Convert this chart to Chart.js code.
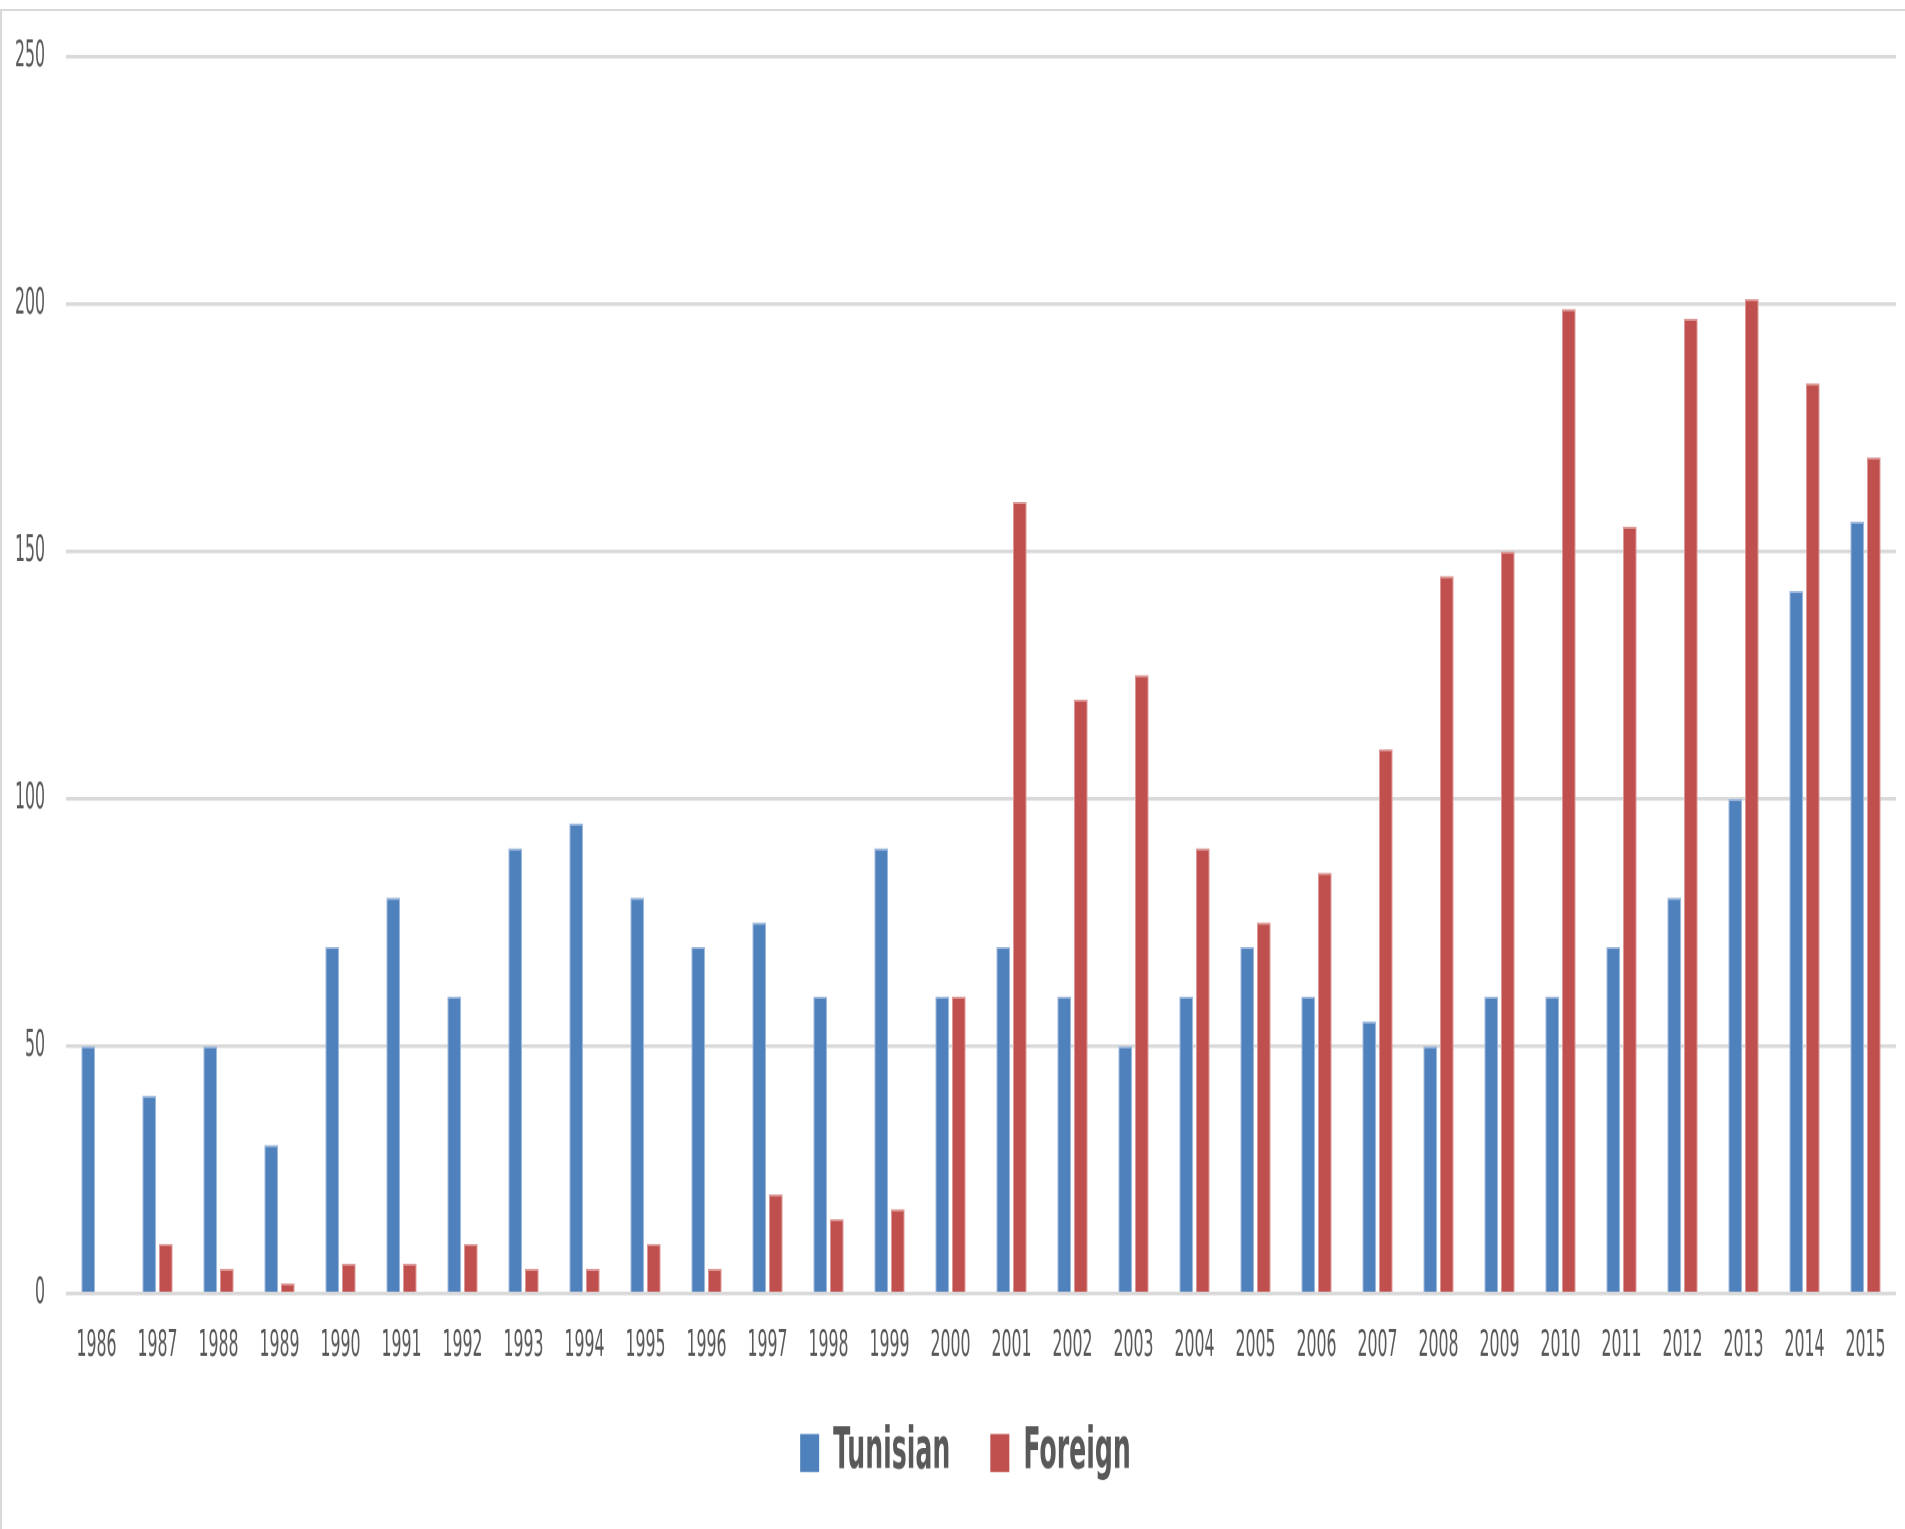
<!DOCTYPE html>
<html>
<head>
<meta charset="utf-8">
<script src="https://cdn.jsdelivr.net/npm/chart.js@4"></script>
<style>
  html, body { margin: 0; padding: 0; background: #fff; overflow: hidden; }
  #frame {
    position: absolute; left: 0; top: 9px; width: 1930px; height: 1540px;
    border-left: 2px solid #d9d9d9; border-top: 2px solid #d9d9d9; box-sizing: border-box;
  }
  /* the chart is drawn on a shorter canvas and stretched vertically (tall, narrow lettering) */
  #stretch {
    position: absolute; left: 0; top: 0; width: 1905px; height: 739px;
    transform: scaleY(2.07); transform-origin: 0 0;
  }
</style>
</head>
<body>
<div id="frame"></div>
<div id="stretch"><canvas id="c" width="1905" height="739"></canvas></div>
<script>
const years = ['1986','1987','1988','1989','1990','1991','1992','1993','1994','1995',
               '1996','1997','1998','1999','2000','2001','2002','2003','2004','2005',
               '2006','2007','2008','2009','2010','2011','2012','2013','2014','2015'];
const tunisian = [50,40,50,30,70,80,60,90,95,80,70,75,60,90,60,70,60,50,60,70,60,55,50,60,60,70,80,100,142,156];
const foreign  = [0,10,5,2,6,6,10,5,5,10,5,20,15,17,60,160,120,125,90,75,85,110,145,150,199,155,197,201,184,169];
const yTicks = [0, 50, 100, 150, 200, 250];

const FONT = "'DejaVu Sans Condensed', 'DejaVu Sans', sans-serif";
const TEXT = '#595959';

// place the legend centred under the plot area and a little below the year labels
const legendPlace = {
  id: 'legendPlace',
  afterLayout(chart) {
    if (!chart.legend) return;
    chart.legend.left = 35;
    chart.legend.top = 647.9;
  }
};

new Chart(document.getElementById('c'), {
  type: 'bar',
  data: {
    labels: years,
    datasets: [
      { label: 'Tunisian', data: tunisian, backgroundColor: '#4F81BD', borderColor: '#9db8dc', borderWidth: 1,
        barPercentage: 0.82, categoryPercentage: 0.54 },
      { label: 'Foreign', data: foreign, backgroundColor: '#C0504D', borderColor: '#dc9896', borderWidth: 1,
        barPercentage: 0.82, categoryPercentage: 0.54 }
    ]
  },
  plugins: [legendPlace],
  options: {
    responsive: false,
    animation: false,
    devicePixelRatio: 2,
    layout: { padding: { left: 0, right: 9, top: 27.4, bottom: 0 } },
    plugins: {
      tooltip: { enabled: false },
      legend: {
        position: 'bottom',
        labels: {
          boxWidth: 19, boxHeight: 18.4, padding: 40, color: TEXT,
          font: { family: FONT, size: 28, weight: 'bold' },
          generateLabels(chart) {
            return chart.data.datasets.map((ds, i) => ({
              text: ds.label, fillStyle: ds.backgroundColor, strokeStyle: ds.backgroundColor,
              lineWidth: 0, hidden: false, datasetIndex: i, fontColor: TEXT
            }));
          }
        }
      }
    },
    scales: {
      x: {
        grid: { display: false, drawTicks: false },
        border: { display: false },
        ticks: { color: TEXT, font: { family: FONT, size: 17.5 }, padding: 15.2, maxRotation: 0, autoSkip: false },
        afterFit(s) { s.height = 36.2; }
      },
      y: {
        min: 0, max: 250,
        afterBuildTicks(s) { s.ticks = yTicks.map(v => ({ value: v })); },
        grid: { color: '#d9d9d9', lineWidth: 1.7, drawTicks: false },
        border: { display: false },
        ticks: { color: TEXT, font: { family: FONT, size: 17.5 }, padding: 21 },
        afterFit(s) { s.width = 66; s.paddingTop = 0; s.paddingBottom = 0; }
      }
    }
  }
});
</script>
</body>
</html>
